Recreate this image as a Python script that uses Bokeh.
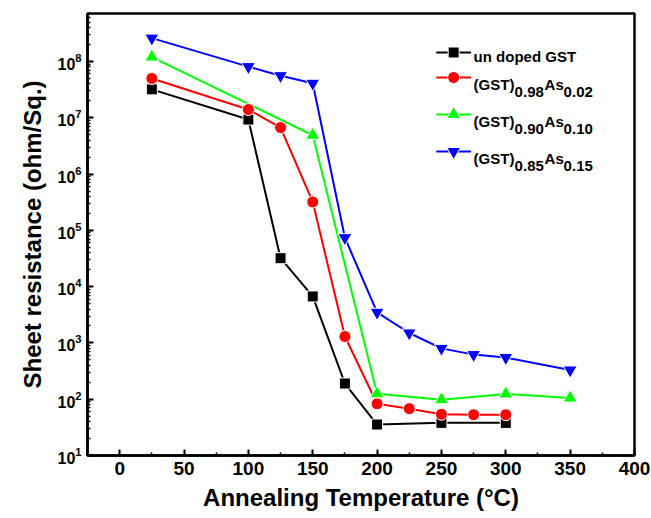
from bokeh.plotting import figure
from bokeh.models import Range1d, SingleIntervalTicker, LogTicker, Label
from bokeh.embed import file_html
from bokeh.resources import INLINE

# ---- data ----
x_undoped = [25, 100, 125, 150, 175, 200, 250, 300]
y_undoped = [3.2e7, 9.3e6, 3.2e4, 6.7e3, 190, 35.5, 38, 38]

x_as002 = [25, 100, 125, 150, 175, 200, 225, 250, 275, 300]
y_as002 = [5.0e7, 1.4e7, 6.7e6, 3.2e5, 1.3e3, 83, 68, 54, 53, 53]

x_as010 = [25, 150, 200, 250, 300, 350]
y_as010 = [1.2e8, 4.9e6, 125, 98, 124, 105]

x_as015 = [25, 100, 125, 150, 175, 200, 225, 250, 275, 300, 350]
y_as015 = [2.6e8, 8.1e7, 5.6e7, 4.1e7, 7.4e4, 3.5e3, 1.5e3, 800, 620, 550, 330]

legend_main = ["un doped GST", "(GST)", "(GST)", "(GST)"]
legend_sub1 = ["", "0.98", "0.90", "0.85"]
legend_sub2 = ["", "0.02", "0.10", "0.15"]

FONT = "Liberation Sans"

p = figure(width=651, height=518, output_backend="svg", toolbar_location=None,
           y_axis_type="log",
           x_range=Range1d(-25, 400), y_range=Range1d(10, 10**8.853),
           min_border_left=87, min_border_right=17, min_border_top=13, min_border_bottom=63)
p.background_fill_color = "white"
p.border_fill_color = "white"
p.grid.visible = False
p.outline_line_color = "black"
p.outline_line_width = 2.5

p.xaxis.ticker = SingleIntervalTicker(interval=50, num_minor_ticks=2)
p.yaxis.ticker = LogTicker(num_minor_ticks=10)
for ax in (p.xaxis, p.yaxis):
    ax.axis_line_width = 2.5
    ax.axis_line_color = "black"
    ax.major_tick_in = 6
    ax.major_tick_out = 0
    ax.minor_tick_in = 3
    ax.minor_tick_out = 0
    ax.major_tick_line_width = 2
    ax.minor_tick_line_width = 1.5
    ax.major_label_text_font = FONT
    ax.major_label_text_font_style = "bold"
    ax.major_label_text_color = "black"
    ax.axis_label_text_font = FONT
    ax.axis_label_text_font_style = "bold"
    ax.axis_label_text_font_size = "24px"
    ax.axis_label_text_color = "black"
p.xaxis.major_label_text_font_size = "19px"
p.yaxis.major_label_text_font_size = "16px"
p.xaxis.axis_label = "Annealing Temperature (°C)"
p.yaxis.axis_label = "Sheet resistance (ohm/Sq.)"
p.xaxis.major_label_standoff = 6
p.xaxis.axis_label_standoff = 6
p.yaxis.major_label_standoff = 6
p.yaxis.axis_label_standoff = 8

series = [
    (x_undoped, y_undoped, "black", "square", 11),
    (x_as002, y_as002, "red", "circle", 12),
    (x_as010, y_as010, "#00FF00", "triangle", 14),
    (x_as015, y_as015, "blue", "inverted_triangle", 14),
]
for xs, ys, c, m, s in series:
    p.line(xs, ys, line_color=c, line_width=2)
for xs, ys, c, m, s in series:
    p.scatter(xs, ys, marker=m, size=s, fill_color=c, line_color="white", line_width=1)

# ---- legend (manual, with subscripts) ----
leg_rows_y = [10**8.16, 10**7.716, 10**7.058, 10**6.401]
leg_base_y = [10**8.09, 10**7.596, 10**6.938, 10**6.28]
for i, (xs, ys, c, m, s) in enumerate(series):
    yy = leg_rows_y[i]
    p.line([246, 273], [yy, yy], line_color=c, line_width=2)
    p.scatter([259.5], [yy], marker=m, size=s, fill_color=c, line_color="white", line_width=1)
    by = leg_base_y[i]
    common = dict(x=275, y=by, x_units="data", y_units="data", text_font=FONT,
                  text_font_style="bold", text_font_size="15px", text_color="black",
                  text_baseline="alphabetic", text_align="left")
    p.add_layout(Label(text=legend_main[i], x_offset=0, **common))
    if legend_sub1[i]:
        p.add_layout(Label(text=legend_sub1[i], x_offset=41, y_offset=-8, **common))
        p.add_layout(Label(text="As", x_offset=71, **common))
        p.add_layout(Label(text=legend_sub2[i], x_offset=90, y_offset=-8, **common))

open("out.html", "w").write(file_html(p, INLINE))
